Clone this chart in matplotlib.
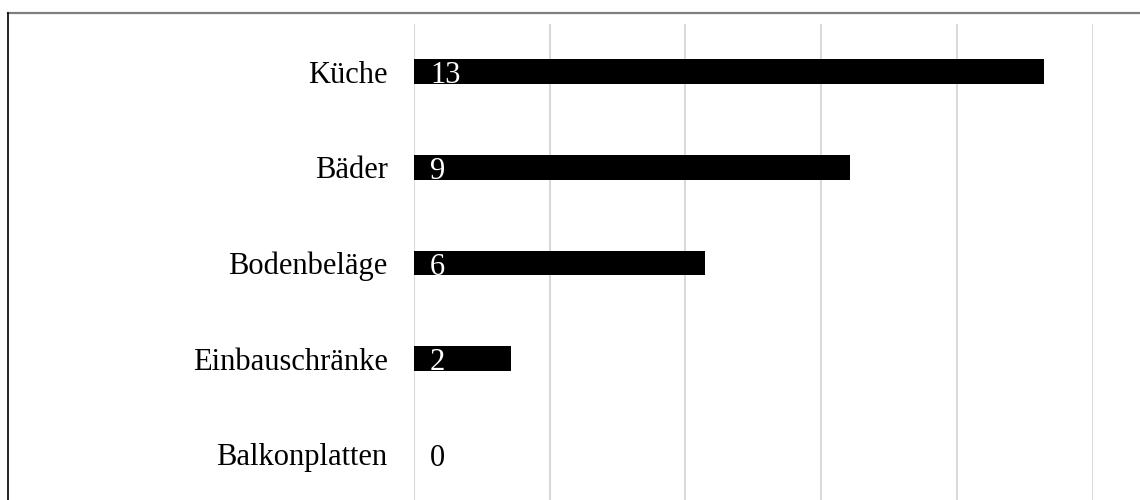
import matplotlib
matplotlib.use("Agg")
import matplotlib.pyplot as plt
from matplotlib.lines import Line2D

categories = ["Küche", "Bäder", "Bodenbeläge", "Einbauschränke", "Balkonplatten"]
values = [13, 9, 6, 2, 0]
x_max = 14
x_step = 2.8

plt.rcParams['font.family'] = ['Liberation Serif', 'DejaVu Serif']

W, H = 1140, 500
fig = plt.figure(figsize=(W / 100, H / 100), dpi=100)
fig.patch.set_facecolor('white')

# outer frame (top and left only visible)
fig.add_artist(Line2D([7.5 / W, 1], [1 - 12.5 / H, 1 - 12.5 / H], color='#7f7f7f', lw=1.6))
fig.add_artist(Line2D([7.5 / W, 7.5 / W], [0, 1 - 13 / H], color='black', lw=1.2))

ax = fig.add_axes([414 / W, -2 / H, (1092.5 - 414) / W, (502 - 24) / H])
ypos = list(range(len(categories)))
ax.barh(ypos, values, height=0.26, color='black', zorder=3)
ax.set_ylim(len(categories) - 0.5, -0.5)
ax.set_xlim(0, x_max)
ticks = [i * x_step for i in range(int(round(x_max / x_step)) + 1)]
ax.set_xticks(ticks)
ax.set_xticklabels([])
ax.tick_params(axis='x', length=0)
ax.grid(axis='x', color='#d9d9d9', lw=1.5, zorder=0)
ax.set_yticks(ypos)
ax.set_yticklabels(categories, fontsize=22)
ax.tick_params(axis='y', length=0, pad=19)
for s in ax.spines.values():
    s.set_visible(False)

for y, v in zip(ypos, values):
    ax.annotate(str(v), xy=(0, y), xytext=(11.5, -8.3), textcoords='offset points',
                va='baseline', ha='left', fontsize=22,
                color='white' if v > 0 else 'black', zorder=4)

fig.savefig('out.png', dpi=100, facecolor='white')
